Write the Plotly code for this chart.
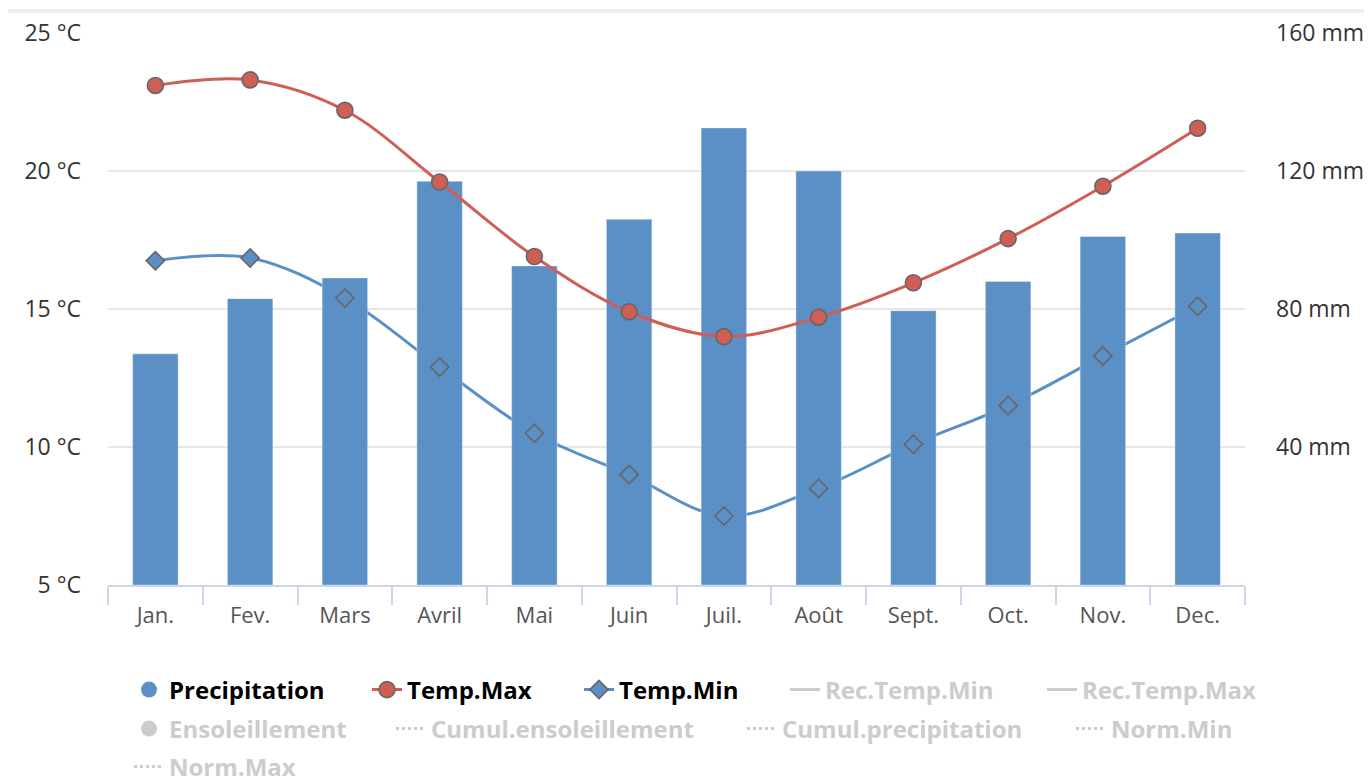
import plotly.graph_objects as go

months = ["Jan.", "Fev.", "Mars", "Avril", "Mai", "Juin", "Juil.", "Août", "Sept.", "Oct.", "Nov.", "Dec."]
precipitation = [67, 83, 89, 117, 92.5, 106, 132.5, 120, 79.5, 88, 101, 102]
temp_max = [23.1, 23.3, 22.2, 19.6, 16.9, 14.9, 14.0, 14.7, 15.95, 17.55, 19.45, 21.55]
temp_min = [16.75, 16.85, 15.4, 12.9, 10.5, 9.0, 7.5, 8.5, 10.1, 11.5, 13.3, 15.1]
temp_ticks = [5, 10, 15, 20, 25]
precip_ticks = [40, 80, 120, 160]

hidden_series = [
    # name, kind, dash, legend id
    ("Rec.Temp.Min", "line", "solid", "legend4"),
    ("Rec.Temp.Max", "line", "solid", "legend5"),
    ("Ensoleillement", "marker", None, "legend6"),
    ("Cumul.ensoleillement", "line", "dot", "legend7"),
    ("Cumul.precipitation", "line", "dot", "legend8"),
    ("Norm.Min", "line", "dot", "legend9"),
    ("Norm.Max", "line", "dot", "legend10"),
]

BLUE = "#5b90c6"
RED = "#cf5e55"
OUTLINE = "#666666"
GRAY = "#cccccc"
OFF = 8  # page body margin
W, H = 1372 - OFF, 778 - OFF
ML, MR, MT, MB = 108 - OFF, 127, 33 - OFF, 193
FONT = "Open Sans"

fig = go.Figure()

# Temp.Min line (behind the bars)
fig.add_trace(go.Scatter(
    x=months, y=temp_min, mode="lines", yaxis="y",
    line=dict(color=BLUE, width=3, shape="spline", smoothing=1.0),
    showlegend=False, hoverinfo="skip"))

# Precipitation bars (right axis)
fig.add_trace(go.Bar(
    x=months, y=precipitation, yaxis="y2", name="Precipitation",
    marker=dict(color=BLUE, line=dict(color="rgba(255,255,255,0.35)", width=1)),
    width=0.48, showlegend=False))

# Temp.Min markers above bars
fig.add_trace(go.Scatter(
    x=months, y=temp_min, mode="markers", yaxis="y3",
    marker=dict(symbol="diamond", size=14, color=BLUE, line=dict(color=OUTLINE, width=1.6)),
    showlegend=False))

# Temp.Max
fig.add_trace(go.Scatter(
    x=months, y=temp_max, mode="lines+markers", yaxis="y3", name="Temp.Max",
    line=dict(color=RED, width=3, shape="spline", smoothing=1.0),
    marker=dict(symbol="circle", size=16, color=RED, line=dict(color=OUTLINE, width=1.6)),
    legend="legend2"))

# Legend entries
fig.add_trace(go.Scatter(
    x=[None], y=[None], mode="markers", yaxis="y3", name="Precipitation",
    marker=dict(symbol="circle", size=22, color=BLUE), legend="legend"))
fig.add_trace(go.Scatter(
    x=[None], y=[None], mode="lines+markers", yaxis="y3", name="Temp.Min",
    line=dict(color=BLUE, width=3),
    marker=dict(symbol="diamond", size=14, color=BLUE, line=dict(color=OUTLINE, width=1.6)),
    legend="legend3"))

for name, kind, dash, lg in hidden_series:
    if kind == "marker":
        fig.add_trace(go.Scatter(
            x=[None], y=[None], mode="markers", yaxis="y3", name=name,
            marker=dict(symbol="circle", size=22, color=GRAY), legend=lg))
    else:
        fig.add_trace(go.Scatter(
            x=[None], y=[None], mode="lines", yaxis="y3", name=name,
            line=dict(color=GRAY, width=3, dash=dash), legend=lg))

# legend positions on the page: (text start x, text center y, text color)
legend_pos = {
    "legend": (170, 690, "#000000"),
    "legend2": (408, 690, "#000000"),
    "legend3": (620, 690, "#000000"),
    "legend4": (826, 690, GRAY),
    "legend5": (1083, 690, GRAY),
    "legend6": (170, 729, GRAY),
    "legend7": (432, 729, GRAY),
    "legend8": (783, 729, GRAY),
    "legend9": (1112, 729, GRAY),
    "legend10": (170, 767, GRAY),
}
legend_layout = {}
for key, (tx, cy, col) in legend_pos.items():
    legend_layout[key] = dict(
        x=(tx - 49) / W, y=1 - (cy - 8) / H, xref="container", yref="container",
        xanchor="left", yanchor="middle", orientation="h",
        bgcolor="rgba(0,0,0,0)", borderwidth=0, itemclick=False, itemdoubleclick=False,
        font=dict(family=FONT, size=24, color=col, weight="bold"))

fig.update_layout(
    width=W, height=H,
    margin=dict(l=ML, r=MR, t=MT, b=MB, autoexpand=False),
    paper_bgcolor="white", plot_bgcolor="white",
    xaxis=dict(
        type="category", range=[-0.5, len(months) - 0.5], tickson="boundaries",
        ticks="outside", ticklen=18, ticklabelstandoff=10,
        tickcolor="#ccd6eb", tickwidth=1.5, showline=True, linecolor="#ccd6eb", linewidth=1.5,
        showgrid=False, automargin=False,
        tickfont=dict(family=FONT, size=22, color="#555555")),
    yaxis=dict(
        range=[5, 25], tickmode="array", tickvals=temp_ticks,
        ticktext=[f"{v} °C" for v in temp_ticks], showgrid=True,
        gridcolor="#e6e6e6", gridwidth=1.5, zeroline=False, showline=False,
        ticklabelstandoff=26, automargin=False,
        tickfont=dict(family=FONT, size=23, color="#333333")),
    yaxis2=dict(
        range=[0, 160], tickmode="array", tickvals=precip_ticks,
        ticktext=[f"{v} mm" for v in precip_ticks], overlaying="y", side="right",
        showgrid=False, zeroline=False, showline=False, ticklabelstandoff=30,
        automargin=False,
        tickfont=dict(family=FONT, size=23, color="#333333")),
    yaxis3=dict(range=[5, 25], overlaying="y", visible=False),
    **legend_layout,
)

# faint header strip at the top of the page
pw, ph = W - ML - MR, H - MT - MB
fig.add_shape(type="rect", xref="paper", yref="paper",
              x0=-ML / pw, x1=(W - ML) / pw,
              y0=1 + (MT - (13 - OFF)) / ph, y1=1 + (MT - (9 - OFF)) / ph,
              fillcolor="#eeeeee", line=dict(width=0), layer="below")

fig.write_html("out.html")
